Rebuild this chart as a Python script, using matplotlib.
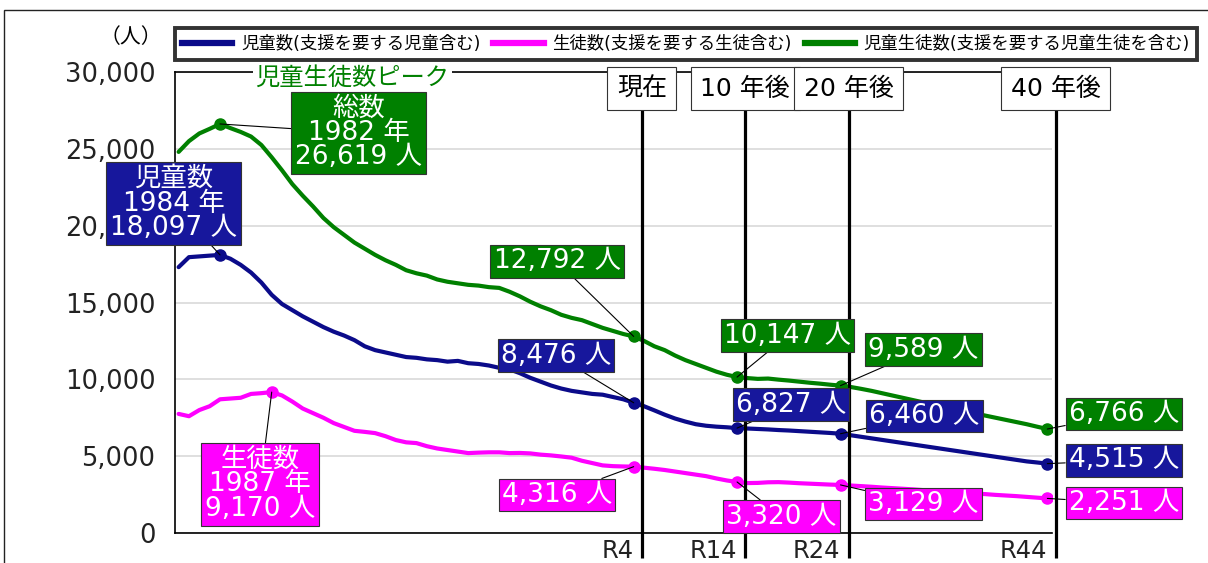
import numpy as np
import matplotlib
matplotlib.use('Agg')
import matplotlib.pyplot as plt
from matplotlib.lines import Line2D
from matplotlib.patches import Rectangle

FONT = ['DejaVu Sans', 'Noto Sans CJK JP']
plt.rcParams['font.family'] = FONT

# ---- data ----
years = list(range(1978, 2063))

total = [24800, 25500, 26000, 26300, 26619, 26350, 26100, 25800, 25250, 24450,
         23600, 22700, 21950, 21250, 20500, 19900, 19400, 18900, 18500, 18100,
         17750, 17450, 17100, 16900, 16750, 16500, 16350, 16250, 16150, 16100,
         16000, 15950, 15700, 15400, 15050, 14750, 14500, 14200, 14000, 13850,
         13600, 13350, 13150, 12950, 12792,
         12500, 12150, 11900, 11550, 11250, 11000, 10750, 10500, 10300, 10147,
         10080, 10030, 10050, 9980, 9920, 9850, 9780, 9720, 9650, 9589,
         9500, 9380, 9250, 9100, 8950, 8800, 8650, 8500, 8350, 8200,
         8060, 7920, 7780, 7640, 7500, 7360, 7220, 7080, 6920, 6766]

children = [17300, 17950, 18000, 18050, 18097, 17850, 17450, 16950, 16300, 15500,
            14900, 14500, 14100, 13750, 13400, 13100, 12850, 12550, 12150, 11900,
            11750, 11600, 11450, 11400, 11300, 11250, 11150, 11200, 11050, 11000,
            10900, 10750, 10650, 10400, 10100, 9850, 9600, 9400, 9250, 9150,
            9050, 9000, 8850, 8700, 8476,
            8250, 7980, 7700, 7450, 7250, 7080, 6980, 6920, 6880, 6827,
            6800, 6770, 6740, 6700, 6670, 6630, 6590, 6550, 6510, 6460,
            6360, 6260, 6160, 6060, 5960, 5860, 5760, 5660, 5560, 5460,
            5360, 5260, 5160, 5060, 4960, 4860, 4760, 4660, 4590, 4515]

students = [7750, 7600, 8000, 8250, 8700, 8750, 8800, 9050, 9100, 9170,
            8950, 8550, 8100, 7800, 7500, 7150, 6900, 6650, 6580, 6500,
            6300, 6050, 5900, 5850, 5650, 5500, 5400, 5300, 5200, 5230,
            5250, 5250, 5200, 5210, 5180, 5100, 5050, 4980, 4900, 4700,
            4550, 4400, 4350, 4330, 4316,
            4250, 4180, 4100, 4000, 3900, 3800, 3700, 3550, 3420, 3320,
            3250, 3260, 3300, 3310, 3280, 3240, 3210, 3180, 3150, 3129,
            3090, 3050, 3010, 2960, 2920, 2880, 2840, 2790, 2750, 2700,
            2660, 2620, 2570, 2530, 2480, 2440, 2400, 2350, 2300, 2251]

series_names = ['児童数(支援を要する児童含む)', '生徒数(支援を要する生徒含む)',
                '児童生徒数(支援を要する児童生徒を含む)']
peak_titles = ['総数\n1982 年', '児童数\n1984 年', '生徒数\n1987 年']
mark_years = [2022, 2032, 2042, 2062]
mark_ticks = ['R4', 'R14', 'R24', 'R44']
mark_titles = ['現在', '10 年後', '20 年後', '40 年後']

C_BLUE, C_PINK, C_GREEN = '#0b0b8a', '#ff00ff', '#008000'
BOX_BLUE = '#17179c'

fig = plt.figure(figsize=(12.08, 5.63), dpi=100)
ax = fig.add_axes([175 / 1208, 30 / 563, 877 / 1208, 461 / 563])

ax.plot(years, children, color=C_BLUE, lw=3, zorder=3, solid_capstyle='round')
ax.plot(years, students, color=C_PINK, lw=3, zorder=3, solid_capstyle='round')
ax.plot(years, total, color=C_GREEN, lw=3, zorder=3, solid_capstyle='round')

ax.set_xlim(1977.65, 2062.45)
ax.set_ylim(0, 30000)
ax.set_yticks(range(0, 30001, 5000))
ax.set_yticklabels([f'{v:,}' for v in range(0, 30001, 5000)])
ax.tick_params(axis='y', length=0, pad=14, labelsize=18.5, labelcolor='#222222')
ax.set_xticks(mark_years)
ax.set_xticklabels(mark_ticks, ha='right')
ax.tick_params(axis='x', length=0, pad=4, labelsize=17.5, labelcolor='#222222')
ax.grid(axis='y', color='#d9d9d9', lw=1.2, zorder=0)
ax.set_axisbelow(True)
for s in ['top', 'left', 'bottom']:
    ax.spines[s].set_linewidth(1.2)
    ax.spines[s].set_color('black')
ax.spines['right'].set_visible(False)

# vertical marker lines with boxes
for yr, title in zip(mark_years, mark_titles):
    ax.plot([yr + 0.8, yr + 0.8], [28500, -1650], color='black', lw=2.3,
            zorder=4, clip_on=False, solid_capstyle='butt')
    ax.text(yr + 0.8, 28900, title, ha='center', va='center', fontsize=18,
            color='black', zorder=7,
            bbox=dict(boxstyle='square,pad=0.38', fc='white', ec='#333333', lw=0.8))

ax.text(1994.8, 29650, '児童生徒数ピーク', ha='center', va='center', fontsize=17.5,
        color=C_GREEN, family=['Noto Sans CJK JP'], zorder=7,
        bbox=dict(boxstyle='square,pad=0.1', fc='white', ec='none'))


def label(x, y, tx, ty, text, color, fs=19, ls=1.0, pad=0.12):
    ax.annotate(text, xy=(x, y), xytext=(tx, ty), textcoords='data',
                ha='center', va='center', color='white', fontsize=fs,
                linespacing=ls, zorder=8, annotation_clip=False,
                bbox=dict(boxstyle=f'square,pad={pad}', fc=color, ec='#333333', lw=0.8),
                arrowprops=dict(arrowstyle='-', color='black', lw=0.8,
                                shrinkA=0, shrinkB=0))


# peaks
lines = [(total, C_GREEN, C_GREEN), (children, C_BLUE, BOX_BLUE), (students, C_PINK, C_PINK)]
peak_box = [(1995.4, 26030), (1977.5, 21440), (1985.9, 3160)]
for (vals, lc, bc), title, (tx, ty) in zip(lines, peak_titles, peak_box):
    i = int(np.argmax(vals))
    ax.plot(years[i], vals[i], 'o', color=lc, ms=8, zorder=5)
    label(years[i], vals[i], tx, ty, f'{title}\n{vals[i]:,} 人', bc, fs=19, ls=0.92, pad=0.15)

# value labels at R4, R14, R24, R44
box_pos = {
    2022: [(2014.6, 17670), (2014.5, 11550), (2014.6, 2470)],
    2032: [(2036.9, 12850), (2037.2, 8360), (2036.3, 1070)],
    2042: [(2050.0, 11940), (2050.1, 7610), (2050.0, 1890)],
    2062: [(2069.4, 7745), (2069.4, 4720), (2069.4, 1950)],
}
for yr in mark_years:
    i = years.index(yr)
    for (vals, lc, bc), (tx, ty) in zip(lines, box_pos[yr]):
        ax.plot(yr, vals[i], 'o', color=lc, ms=8, zorder=5)
        label(yr, vals[i], tx, ty, f'{vals[i]:,} 人', bc)

# legend
handles = [Line2D([], [], color=c, lw=4.5) for c in (C_BLUE, C_PINK, C_GREEN)]
leg = fig.legend(handles, series_names, loc='center', ncol=3, mode='expand',
                 bbox_to_anchor=(175 / 1208, 500 / 563, 1022 / 1208, 38 / 563),
                 borderaxespad=0, fontsize=12.5, handlelength=2.9,
                 handletextpad=0.5, fancybox=False, frameon=True)
leg.get_frame().set_edgecolor('black')
leg.get_frame().set_linewidth(2.8)

fig.text(131 / 1208, 1 - 37 / 563, '（人）', ha='center', va='center', fontsize=15,
         family=['Noto Sans CJK JP'])

fig.add_artist(Rectangle((4 / 1208, -0.1), 1.2, 1.1 - 10 / 563, transform=fig.transFigure,
                         fill=False, ec='#222222', lw=1.0))

fig.savefig('out.png', dpi=100)
